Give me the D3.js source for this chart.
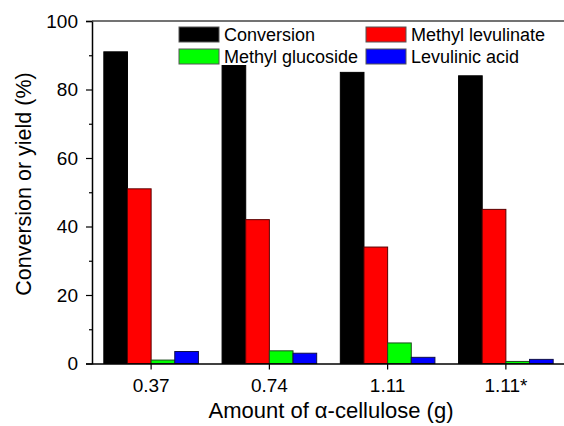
<!DOCTYPE html>
<html>
<head>
<meta charset="utf-8">
<script src="https://cdn.jsdelivr.net/npm/d3@7"></script>
<style>
body { margin: 0; background: #fff; }
text { font-family: "Liberation Sans", Arial, sans-serif; fill: #000; }
</style>
</head>
<body>
<div id="target"></div>
<script>
var categories = ['0.37', '0.74', '1.11', '1.11*'];
var seriesNames = ['Conversion', 'Methyl levulinate', 'Methyl glucoside', 'Levulinic acid'];
var conversion = [91, 87, 85, 84];
var methylLevulinate = [51, 42, 34, 45];
var methylGlucoside = [1, 3.7, 6, 0.6];
var levulinicAcid = [3.5, 3, 1.8, 1.2];
var yTicks = [0, 20, 40, 60, 80, 100];
var yMinorTicks = [10, 30, 50, 70, 90];
var colorScale = ['#000000', '#ff0000', '#00ff00', '#0000ff'];
var strokeScale = ['#000000', '#5a0000', '#1e4a1e', '#10104a'];

var width = 564, height = 426;
var margin = {left: 92, top: 21, right: 0, bottom: 62};

var svg = d3.select('#target').append('svg')
    .attr('width', width)
    .attr('height', height);

var allSeries = [conversion, methylLevulinate, methylGlucoside, levulinicAcid];

var xScale = d3.scaleBand().domain(categories)
    .range([margin.left, margin.left + 473])
    .paddingInner(0.2).paddingOuter(0.1);
var xSub = d3.scaleBand().domain(d3.range(seriesNames.length))
    .range([0, xScale.bandwidth()]);
var yScale = d3.scaleLinear().domain([0, 100]).range([height - margin.bottom - 0.5, margin.top]);

// bars
var groups = svg.selectAll('g.grp')
    .data(categories)
    .enter()
    .append('g')
    .attr('class', 'grp')
    .attr('transform', function(d) { return 'translate(' + xScale(d) + ',0)'; });

groups.selectAll('rect')
    .data(function(d, i) {
        return allSeries.map(function(s, j) { return {k: j, value: s[i]}; });
    })
    .enter()
    .append('rect')
    .attr('x', function(d) { return xSub(d.k); })
    .attr('width', xSub.bandwidth())
    .attr('y', function(d) { return yScale(d.value); })
    .attr('height', function(d) { return yScale(0) - yScale(d.value); })
    .style('fill', function(d) { return colorScale[d.k]; })
    .style('stroke', function(d) { return strokeScale[d.k]; })
    .style('stroke-width', 1);

// y axis, major + minor ticks
var yAxis = svg.append('g')
    .attr('transform', 'translate(' + margin.left + ',0)')
    .call(d3.axisLeft(yScale).tickValues(yTicks).tickSize(6).tickPadding(8));
yAxis.selectAll('text').style('font-size', '19px').style('font-family', '"Liberation Sans", Arial, sans-serif');
yAxis.select('.domain').attr('stroke-width', 1.5);
yAxis.selectAll('.tick line').attr('stroke-width', 1.2);

svg.append('g')
    .attr('transform', 'translate(' + margin.left + ',0)')
    .call(d3.axisLeft(yScale).tickValues(yMinorTicks).tickSize(3).tickFormat(''))
    .call(function(g) { g.select('.domain').remove(); })
    .selectAll('.tick line').attr('stroke-width', 1.2);

// x axis
var xAxis = svg.append('g')
    .attr('transform', 'translate(0,' + yScale(0) + ')')
    .call(d3.axisBottom(xScale).tickSize(6).tickSizeOuter(0).tickPadding(9));
xAxis.selectAll('text').style('font-size', '19px').style('font-family', '"Liberation Sans", Arial, sans-serif');
xAxis.select('.domain').attr('stroke-width', 1.5);
xAxis.selectAll('.tick line').attr('stroke-width', 1.2);

// top frame line
svg.append('line')
    .attr('x1', margin.left).attr('x2', width)
    .attr('y1', margin.top).attr('y2', margin.top)
    .attr('stroke', '#444').attr('stroke-width', 1.3);

// axis titles
svg.append('text')
    .attr('x', 331).attr('y', 418)
    .attr('text-anchor', 'middle')
    .style('font-size', '22px')
    .text('Amount of α-cellulose (g)');

svg.append('text')
    .attr('transform', 'translate(31,184) rotate(-90)')
    .attr('text-anchor', 'middle')
    .style('font-size', '21.5px')
    .text('Conversion or yield (%)');

// legend, two rows
var legendX = [179, 366], legendY = [27, 49];
var legendOrder = [0, 1, 2, 3];
var leg = svg.selectAll('g.leg')
    .data(legendOrder)
    .enter()
    .append('g')
    .attr('class', 'leg')
    .attr('transform', function(d, i) {
        return 'translate(' + legendX[i % 2] + ',' + legendY[Math.floor(i / 2)] + ')';
    });
leg.append('rect')
    .attr('width', 40).attr('height', 15)
    .style('fill', function(d) { return colorScale[d]; })
    .style('stroke', '#555').style('stroke-width', 1);
leg.append('text')
    .attr('x', 45).attr('y', 7.5).attr('dy', '0.36em')
    .style('font-size', '18px')
    .text(function(d) { return seriesNames[d]; });
</script>
</body>
</html>
